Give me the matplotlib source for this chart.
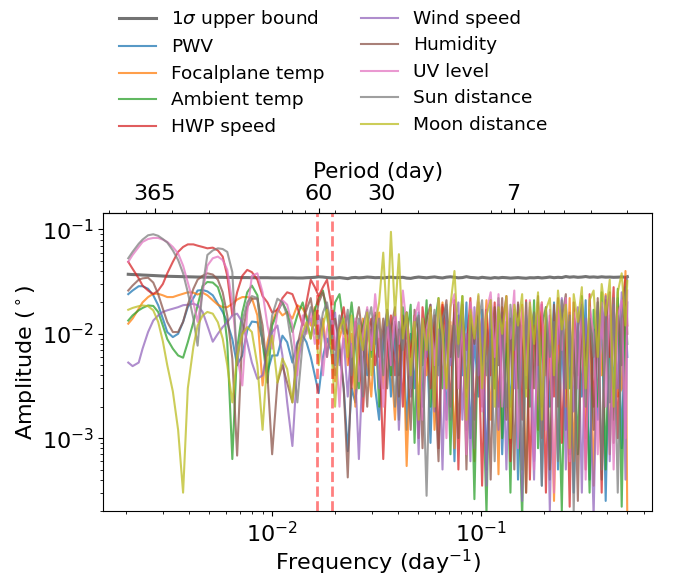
import numpy as np
import matplotlib
matplotlib.use('Agg')
import matplotlib.pyplot as plt
from matplotlib.ticker import NullFormatter

# frequency grid, in units of 1e-3 / day
freq_e3 = [2.05, 2.15, 2.3, 2.4, 2.55, 2.7, 2.85, 3.0, 3.15, 3.35, 3.55, 3.75, 3.95, 4.2, 4.4,
           4.65, 4.9, 5.2, 5.5, 5.8, 6.1, 6.45, 6.8, 7.2, 7.6, 8.0, 8.5, 9.0, 9.5, 10.0,
           10.6, 11.2, 11.8, 12.5, 13.2, 14.0,
           14.6, 15.3, 16.0, 16.7, 17.5, 18.3, 19.1, 20, 21, 22,
           23, 24, 25, 26, 27.2, 28.5, 29.8, 31.1, 32.5, 34,
           35.5, 37, 38.7, 40.4, 42.2, 44, 46, 48, 50.2, 52.4,
           54.8, 57.2, 59.8, 62.5, 65.3, 68.2, 71.3, 74.5, 77.8, 81.3,
           85, 88.8, 92.8, 97, 101, 106, 111, 116, 121, 126,
           132, 138, 144, 150, 157, 164, 171, 179, 187, 195,
           204, 213, 223, 233, 243, 254, 265, 277, 290, 303,
           316, 330, 345, 361, 377, 394, 412, 430, 450, 470,
           490, 500]

# amplitudes in millidegrees
bound = [37.2, 37.0, 36.8, 36.6, 36.4, 36.2, 36.0, 35.8, 35.6, 35.5, 35.4, 35.3, 35.2, 35.1, 35.0,
         35.0, 34.9, 34.9, 34.8, 34.8, 34.7, 34.7, 34.6, 34.6, 34.6, 34.5, 34.5, 34.5, 34.5, 34.4,
         34.4, 34.4, 34.4, 34.4, 34.3, 34.3,
         34.5, 34.6, 34.8, 35.2, 35.0, 34.6, 34.4, 34.3, 34.6, 34.2,
         33.8, 34.5, 34.7, 34.4, 34.6, 35.0, 34.8, 34.5, 34.6, 34.3,
         34.7, 34.9, 34.5, 34.6, 34.8, 34.2, 34.0, 34.6, 35.0, 34.7,
         34.4, 34.8, 35.1, 34.6, 34.3, 34.9, 35.2, 34.8, 34.4, 34.6,
         35.3, 34.7, 34.5, 34.2, 34.8, 34.4, 34.1, 34.6, 34.3, 34.7,
         34.5, 34.2, 34.4, 34.6, 34.3, 34.1, 34.5, 34.4, 34.7, 34.3,
         34.6, 35.0, 34.5, 34.8, 34.6, 35.4, 34.9, 35.2, 34.8, 35.0,
         35.4, 34.9, 35.1, 34.8, 35.2, 34.9, 35.0, 34.8, 34.9, 35.1,
         34.9, 35.3]

pwv = [24, 26, 28.6, 28.6, 27, 23.4, 18.8, 14, 10.4, 9.3, 10, 13, 18, 22, 26,
       26.3, 25.5, 23.4, 19.4, 16.2, 12.9, 8.9, 5, 6.2, 10.8, 13.1, 12.9, 8.9, 4.3, 6.2,
       6.2, 9.6, 8.3, 5.3, 8.3, 9.6,
       8.3, 6, 4, 2.7, 6, 9, 7, 4, 7, 3,
       0.75, 3, 2.2, 5, 9, 4, 11, 3, 1.5, 8,
       12, 2.5, 9, 4, 14, 1.2, 10, 3, 16, 2,
       11, 0.9, 13, 5, 18, 1.5, 12, 0.6, 15, 4,
       20, 1, 9, 2.5, 17, 0.5, 11, 3, 19, 0.7,
       8, 2, 15, 0.4, 12, 3, 18, 0.6, 9, 0.35,
       14, 2, 20, 0.5, 10, 1.2, 16, 0.3, 13, 2.5,
       21, 0.4, 11, 1.5, 18, 0.25, 14, 3, 22, 0.8,
       17, 6]

focal = [12.5, 14, 17.4, 20, 22.5, 24.2, 24.2, 23.4, 22.5, 22.5, 23.4, 24.2, 25, 24.8, 23.8,
         24.8, 23.4, 21, 19, 18, 18, 19.4, 21.3, 22.5, 22.5, 22, 15, 3.2, 8.3, 12.9,
         17.4, 15, 16.2, 14, 18.8, 17.4,
         15, 12, 18, 8, 14, 6, 12, 3.5, 9, 13,
         5, 10, 2, 8, 14, 6, 2.5, 11, 16, 3,
         12, 6, 1.5, 9, 12, 0.54, 7, 15, 2, 10,
         4, 17, 1.2, 9, 20, 3, 13, 0.8, 11, 18,
         2.5, 14, 0.6, 16, 5, 21, 1.5, 12, 0.45, 18,
         7, 0.9, 14, 3, 19, 0.3, 10, 16, 1.2, 20,
         4, 13, 0.25, 9, 17, 2, 22, 0.6, 12, 18,
         1, 15, 0.35, 20, 4, 24, 0.7, 16, 2.5, 3,
         40, 0.15]

ambient = [13.4, 15, 16.8, 17.7, 18.7, 18.5, 16.2, 12, 8.9, 7.2, 6.2, 5.9, 8.3, 12.9, 18.7,
           28.7, 31.4, 31, 28, 20, 8.3, 0.63, 7.2, 16, 25, 29, 23.4, 8.3, 3.4, 12,
           16.2, 20, 16.2, 10.4, 15, 20,
           14, 9, 17, 22, 26, 15, 8, 20, 24, 12,
           10, 20, 9, 3, 12, 17, 6, 14, 2, 10,
           16, 4, 13, 1.5, 18, 9, 19, 0.9, 14, 5,
           21, 2, 12, 22, 3, 16, 0.7, 19, 8, 23,
           1.2, 11, 0.26, 15, 6, 0.19, 18, 3, 22, 1,
           13, 0.3, 17, 4, 0.17, 14, 2, 21, 0.8, 12,
           18, 0.4, 16, 5, 0.2, 19, 3, 14, 0.7, 23,
           6, 0.3, 17, 2, 25, 0.5, 15, 1.5, 27, 0.22,
           19, 8]

hwp = [49, 42, 34, 29, 26, 24, 26, 30, 38, 49, 61, 68, 72, 72, 70,
       68, 66, 67, 63, 55, 36, 15, 25, 36, 41, 39, 33, 23, 20, 16,
       17, 22, 25, 24, 18, 12,
       20, 33, 28, 23, 28, 33, 20, 7, 12, 18,
       9, 3, 13, 8, 1.8, 10, 14, 5, 9, 0.63,
       7, 15, 4, 11, 2, 16, 6, 12, 1, 18,
       8, 3, 15, 0.8, 19, 10, 2, 21, 0.5, 13,
       7, 22, 1.5, 9, 0.35, 17, 4, 20, 2, 11,
       23, 0.6, 8, 16, 1.5, 21, 0.4, 12, 5, 19,
       0.3, 15, 2.5, 22, 0.9, 11, 0.22, 20, 4, 14,
       0.5, 24, 2, 13, 0.3, 21, 6, 28, 1, 17,
       35, 12]

wind = [5.3, 4.9, 5.3, 7.2, 10.4, 13.4, 15, 16.2, 16.8, 17.4, 18, 18.8, 19, 19.4, 18.8,
        16.2, 12, 8.4, 10, 11.6, 12.9, 15, 15.6, 12.9, 8.3, 5.3, 3.7, 4, 7.2, 10.4,
        12, 6.2, 2.2, 0.84, 5, 9.6,
        12, 14, 10, 15, 11, 6, 13, 16, 5, 9,
        2.5, 8, 4, 0.63, 6, 12, 7, 15, 3, 10,
        17, 5, 13, 1.2, 9, 16, 2.5, 12, 0.7, 14,
        6, 19, 1.8, 11, 0.5, 17, 5, 13, 20, 1.5,
        10, 0.6, 18, 4, 14, 0.35, 21, 7, 1.2, 16,
        0.5, 12, 3, 19, 0.25, 15, 6, 0.4, 20, 2,
        11, 0.2, 17, 8, 22, 0.5, 13, 1.8, 18, 0.3,
        14, 4, 0.18, 16, 9, 23, 0.6, 19, 3, 25,
        0.4, 20]

humidity = [26, 29, 33, 34, 34.5, 31, 24, 17.4, 13, 10.4, 10.4, 13, 19, 27, 33,
            36, 38, 37, 33, 25, 15, 5.8, 0.68, 9.6, 18, 21.7, 21.7, 12, 4, 0.7,
            3.4, 5, 3.4, 2.2, 7.7, 13,
            17, 22, 12, 20, 25, 18, 9, 14, 8, 3,
            0.42, 5, 12, 18, 9, 2, 13, 16, 6, 14,
            3, 11, 18, 2.5, 15, 7, 1.2, 17, 10, 0.8,
            14, 19, 4, 0.6, 12, 21, 6, 16, 1, 19,
            0.5, 14, 8, 20, 2, 11, 0.4, 18, 5, 22,
            1.5, 14, 0.5, 20, 7, 0.3, 17, 3, 23, 1,
            12, 0.5, 19, 2, 14, 24, 0.7, 9, 0.25, 20,
            5, 17, 1.2, 22, 0.4, 13, 25, 0.9, 18, 5,
            28, 10]

uv = [49, 57, 68, 76, 81, 83, 83, 80, 76, 68, 59, 45, 31, 20, 13,
      25, 45, 53, 55, 51, 41, 20, 6.2, 3.2, 16, 36, 38, 25, 12, 7.2,
      16, 21, 19, 12, 4, 15,
      10, 16, 8, 13, 4, 11, 17, 9, 2, 12,
      15, 6, 14, 3.5, 10, 18, 7, 24, 9, 2,
      13, 5, 16, 8, 26, 12, 3, 14, 20, 1.5,
      11, 16, 5, 21, 9, 1, 18, 24, 3, 15,
      0.7, 20, 11, 23, 1.8, 16, 25, 6, 24, 2,
      22, 9, 26, 0.8, 18, 4, 21, 0.5, 15, 20,
      1.2, 17, 0.3, 19, 7, 22, 0.6, 16, 3, 21,
      0.4, 18, 10, 0.7, 20, 2, 24, 0.5, 15, 21,
      1, 26]

sun = [53, 61, 73, 80, 88, 90, 87, 81, 75, 63, 51, 38, 25, 14, 7.7,
       28, 57, 63, 66, 65, 61, 39, 5, 13, 20, 23, 22, 8, 6.2, 15,
       21.7, 20, 15, 7, 2.2, 8.3,
       11, 18, 14, 9, 16, 20, 12, 5, 15, 10,
       17, 4, 9, 14, 2.5, 12, 18, 8, 14, 4,
       17, 10, 2, 13, 7, 16, 3, 11, 15, 6,
       0.28, 9, 17, 4, 14, 19, 1.5, 12, 6, 18,
       3, 15, 0.8, 13, 21, 4, 9, 0.6, 17, 11,
       2, 19, 7, 14, 0.5, 20, 3, 16, 9, 0.35,
       18, 6, 13, 0.6, 21, 3, 15, 0.2, 11, 19,
       2, 14, 6, 20, 0.5, 16, 2.2, 22, 0.3, 14,
       24, 35]

moon = [17, 17.7, 18.4, 18.7, 18.4, 16.8, 13, 8.5, 5, 2.8, 1.2, 0.3, 3, 7.5, 12,
        15, 16.2, 15.6, 12.9, 9, 5, 2.2, 6.2, 10, 11.6, 10.4, 5, 1.2, 6.2, 9.6,
        3.4, 5.8, 4.6, 2.2, 6.2, 10.4,
        13, 9, 16, 5, 12, 17, 8, 2, 11, 14,
        6, 15, 3, 12, 7, 16, 4, 12, 20, 60,
        12, 95, 15, 58, 9, 16, 4, 13, 1.5, 14,
        7, 18, 2, 22, 10, 3, 19, 40, 8, 23,
        1.5, 17, 9, 24, 3, 15, 21, 2, 18, 10,
        23, 1, 19, 12, 24, 2.5, 20, 8, 25, 1.5,
        17, 22, 4, 26, 11, 19, 0.8, 24, 13, 28,
        3, 21, 26, 6, 30, 15, 33, 2, 25, 38,
        12, 32]

labels = ['PWV', 'Focalplane temp', 'Ambient temp', 'HWP speed', 'Wind speed',
          'Humidity', 'UV level', 'Sun distance', 'Moon distance']
series = [pwv, focal, ambient, hwp, wind, humidity, uv, sun, moon]
marked_periods = [61, 52]
period_ticks = [365, 60, 30, 7]

freq = np.array(freq_e3) * 1e-3

fig = plt.figure(figsize=(6.73, 5.76), dpi=100)
ax = fig.add_axes([0.1535, 0.1128, 0.8157, 0.5169])

ax.plot(freq, np.array(bound) * 1e-3, color='0.45', lw=2.2, label=r'1$\sigma$ upper bound')
for i, (lab, vals) in enumerate(zip(labels, series)):
    ax.plot(freq, np.array(vals) * 1e-3, color='C%d' % i, lw=1.5, alpha=0.75, label=lab)
for p in marked_periods:
    ax.axvline(1.0 / p, color='red', ls='--', lw=2, alpha=0.5)

ax.set_xscale('log')
ax.set_yscale('log')
ax.set_ylim(2e-4, 0.143)
ax.set_xlabel('Frequency (day$^{-1}$)', fontsize=16, labelpad=1)
ax.set_ylabel(r'Amplitude ($^\circ$)', fontsize=16, labelpad=1.5)
ax.tick_params(labelsize=16)


def inv(x):
    x = np.array(x, dtype=float)
    with np.errstate(divide='ignore'):
        return 1.0 / x


secax = ax.secondary_xaxis('top', functions=(inv, inv))
secax.set_xticks(period_ticks)
secax.set_xticklabels([str(p) for p in period_ticks])
secax.xaxis.set_minor_formatter(NullFormatter())
secax.tick_params(labelsize=16)
secax.set_xlabel('Period (day)', fontsize=15.5)

fig.legend(ncol=2, loc='upper left', bbox_to_anchor=(0.1525, 1.015), frameon=False,
           fontsize=13.3, labelspacing=0.46)

fig.savefig('out.png', dpi=100)
